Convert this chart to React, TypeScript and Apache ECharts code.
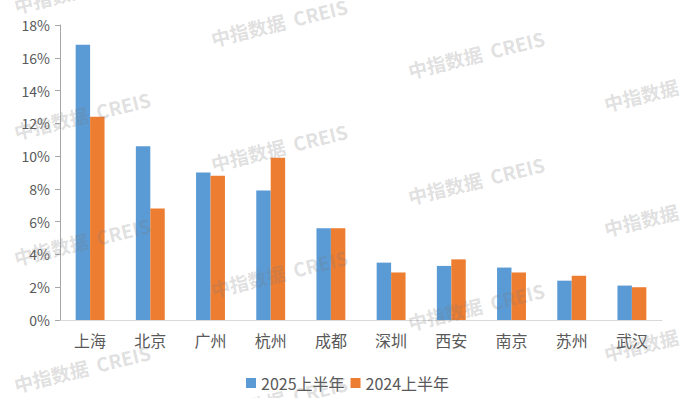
import React, { useEffect, useRef } from "react";
import * as echarts from "echarts";

const categories = ["上海", "北京", "广州", "杭州", "成都", "深圳", "西安", "南京", "苏州", "武汉"];
const series2025 = [16.8, 10.6, 9.0, 7.9, 5.6, 3.5, 3.3, 3.2, 2.4, 2.1];
const series2024 = [12.4, 6.8, 8.8, 9.9, 5.6, 2.9, 3.7, 2.9, 2.7, 2.0];
const seriesNames = ["2025上半年", "2024上半年"];
const watermarkText = "中指数据  CREIS";
const watermarkSpots: [number, number][] = [
  [82, -11], [82, 115], [82, 241], [82, 368],
  [279, 22], [279, 147], [279, 273], [279, 399],
  [476, 54], [476, 180], [476, 306],
  [672, 87], [672, 212], [672, 337],
];

const FONT = "'Noto Sans CJK SC', 'Noto Sans', sans-serif";

export default function App() {
  const ref = useRef<HTMLDivElement>(null);
  useEffect(() => {
    if (!ref.current) return;
    const chart = echarts.init(ref.current, undefined, { renderer: "svg" });
    chart.setOption({
      animation: false,
      backgroundColor: "#ffffff",
      textStyle: { fontFamily: FONT },
      grid: { left: 60, right: 21, top: 25, bottom: 78, containLabel: false },
      legend: {
        data: seriesNames,
        left: 241,
        top: 370,
        icon: "rect",
        itemWidth: 10,
        itemHeight: 10,
        itemGap: 6,
        textStyle: { fontSize: 16, color: "#595959", fontFamily: FONT },
      },
      xAxis: {
        type: "category",
        data: categories,
        axisLine: { lineStyle: { color: "#d9d9d9", width: 1 } },
        axisTick: { show: false },
        axisLabel: { fontSize: 16, color: "#595959", margin: 12, fontFamily: FONT },
      },
      yAxis: {
        type: "value",
        min: 0,
        max: 18,
        interval: 2,
        splitLine: { show: false },
        axisLine: { show: true, lineStyle: { color: "#a6a6a6", width: 1 } },
        axisTick: { show: true, length: 5, lineStyle: { color: "#a6a6a6" } },
        axisLabel: { formatter: "{value}%", fontSize: 14, color: "#595959", margin: 10, fontFamily: FONT },
      },
      series: [
        {
          name: seriesNames[0],
          type: "bar",
          data: series2025,
          itemStyle: { color: "#5B9BD5" },
          barGap: "0%",
          barCategoryGap: "52%",
        },
        {
          name: seriesNames[1],
          type: "bar",
          data: series2024,
          itemStyle: { color: "#ED7D31" },
          barGap: "0%",
          barCategoryGap: "52%",
        },
      ],
      graphic: watermarkSpots.map(([x, y]) => ({
        type: "text",
        x,
        y,
        rotation: 0.24,
        z: 100,
        silent: true,
        style: {
          text: watermarkText,
          fill: "rgba(120,120,120,0.24)",
          font: `bold 19px ${FONT}`,
          align: "center",
          verticalAlign: "middle",
        },
      })),
    });
    return () => chart.dispose();
  }, []);
  return <div ref={ref} style={{ width: 683, height: 398, position: "absolute", left: 0, top: 0 }} />;
}
